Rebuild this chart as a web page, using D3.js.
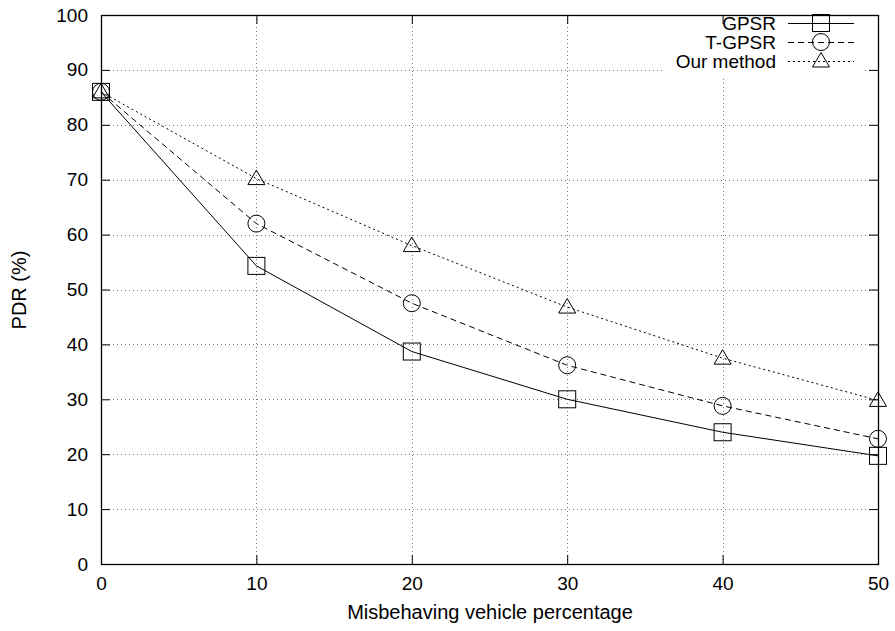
<!DOCTYPE html>
<html>
<head>
<meta charset="utf-8">
<script src="https://d3js.org/d3.v7.min.js"></script>
<style>
  body { margin: 0; background: #fff; }
  text { font-family: "Liberation Sans", Arial, sans-serif; }
</style>
</head>
<body>
<script>
// data
var xValues = [0, 10, 20, 30, 40, 50];
var gpsr = [86, 54.3, 38.7, 30, 24, 19.7];
var tgpsr = [86, 62, 47.5, 36.2, 28.8, 22.8];
var ours = [86, 70.2, 58, 46.8, 37.5, 29.8];
var seriesNames = ["GPSR", "T-GPSR", "Our method"];
var xTicks = [0, 10, 20, 30, 40, 50];
var yTicks = [0, 10, 20, 30, 40, 50, 60, 70, 80, 90, 100];

var W = 895, H = 631;
var pL = 101, pR = 878, pT = 15, pB = 564;

var svg = d3.select("body").append("svg").attr("width", W).attr("height", H);

var x = d3.scaleLinear().domain([0, 50]).range([pL, pR]);
var y = d3.scaleLinear().domain([0, 100]).range([pB, pT]);

/* grid */
var grid = svg.append("g").attr("stroke", "#777").attr("stroke-width", 1)
  .attr("stroke-dasharray", "1,3");
grid.selectAll(".gx").data(xTicks.slice(1, -1)).enter().append("line")
  .attr("x1", function(d) { return Math.round(x(d)) + 0.5; })
  .attr("x2", function(d) { return Math.round(x(d)) + 0.5; })
  .attr("y1", pT).attr("y2", pB);
grid.selectAll(".gy").data(yTicks.slice(1, -1)).enter().append("line")
  .attr("y1", function(d) { return Math.round(y(d)) + 0.5; })
  .attr("y2", function(d) { return Math.round(y(d)) + 0.5; })
  .attr("x1", pL).attr("x2", pR);

/* key background hides the grid like gnuplot's opaque key */
svg.append("rect").attr("x", 662).attr("y", 14).attr("width", 202).attr("height", 62)
  .attr("fill", "#fff");

/* frame + ticks on all sides */
svg.append("rect").attr("x", pL + 0.5).attr("y", pT + 0.5)
  .attr("width", pR - pL).attr("height", pB - pT)
  .attr("fill", "none").attr("stroke", "#000").attr("stroke-width", 1.3);

var xAxis = d3.axisBottom(x).tickValues(xTicks).tickSize(-9).tickPadding(13);
svg.append("g").attr("transform", "translate(0," + pB + ")").call(xAxis);
var xTop = d3.axisTop(x).tickValues(xTicks).tickSize(-9).tickFormat("");
svg.append("g").attr("transform", "translate(0," + pT + ")").call(xTop);
var yAxis = d3.axisLeft(y).tickValues(yTicks).tickSize(-9).tickPadding(13);
svg.append("g").attr("transform", "translate(" + pL + ",0)").call(yAxis);
var yRight = d3.axisRight(y).tickValues(yTicks).tickSize(-9).tickFormat("");
svg.append("g").attr("transform", "translate(" + pR + ",0)").call(yRight);
svg.selectAll(".domain").remove();
svg.selectAll(".tick text").attr("font-size", 19).attr("fill", "#000")
  .attr("font-family", "'Liberation Sans', Arial, sans-serif");
svg.selectAll(".tick line").attr("stroke", "#000");

/* axis titles */
svg.append("text").attr("x", 490).attr("y", 619)
  .attr("text-anchor", "middle").attr("font-size", 20).text("Misbehaving vehicle percentage");
svg.append("text").attr("transform", "translate(26," + 290 + ") rotate(-90)")
  .attr("text-anchor", "middle").attr("font-size", 20).text("PDR (%)");

/* series */
var series = [
  { name: seriesNames[0], vals: gpsr, dash: null, mark: "square" },
  { name: seriesNames[1], vals: tgpsr, dash: "6,4", mark: "circle" },
  { name: seriesNames[2], vals: ours, dash: "2,3", mark: "triangle" }
];

var line = d3.line().x(function(d) { return x(d[0]); }).y(function(d) { return y(d[1]); });

function drawMark(g, type, cx, cy) {
  if (type === "square") {
    g.append("rect").attr("x", cx - 8.5).attr("y", cy - 8.5).attr("width", 17).attr("height", 17)
      .attr("fill", "none").attr("stroke", "#000");
  } else if (type === "circle") {
    g.append("circle").attr("cx", cx).attr("cy", cy).attr("r", 8.5)
      .attr("fill", "none").attr("stroke", "#000");
  } else {
    g.append("path").attr("d", "M" + cx + "," + (cy - 8.5) + "L" + (cx + 8.5) + "," + (cy + 6) +
      "L" + (cx - 8.5) + "," + (cy + 6) + "Z")
      .attr("fill", "none").attr("stroke", "#000");
  }
}

series.forEach(function(s, i) {
  var pts = xValues.map(function(v, j) { return [v, s.vals[j]]; });
  svg.append("path").datum(pts).attr("d", line).attr("fill", "none")
    .attr("stroke", "#000").attr("stroke-width", 1)
    .attr("stroke-dasharray", s.dash);
  var mg = svg.append("g");
  pts.forEach(function(p) { drawMark(mg, s.mark, x(p[0]), y(p[1])); });

  // key entry
  var ky = 23 + i * 19;
  svg.append("text").attr("x", 776).attr("y", ky + 6.5).attr("text-anchor", "end")
    .attr("font-size", 19).text(s.name);
  svg.append("line").attr("x1", 788).attr("x2", 854).attr("y1", ky + 0.5).attr("y2", ky + 0.5)
    .attr("stroke", "#000").attr("stroke-dasharray", s.dash);
  drawMark(svg.append("g"), s.mark, 821, ky);
});
</script>
</body>
</html>
